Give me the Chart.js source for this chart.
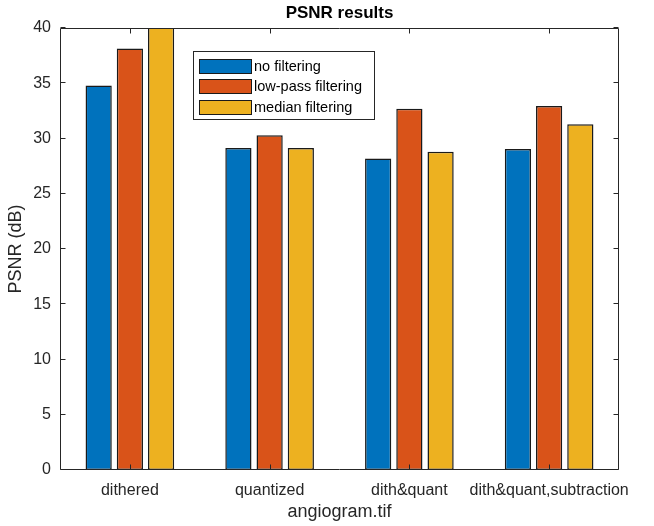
<!DOCTYPE html>
<html><head><meta charset="utf-8">
<script src="https://cdn.jsdelivr.net/npm/chart.js@4/dist/chart.umd.min.js"></script>
<style>html,body{margin:0;padding:0;background:#fff;overflow:hidden}#wrap{width:654px;height:526px}</style>
</head><body><div id="wrap"><canvas id="c" width="654" height="526"></canvas></div>
<script>
const categories = ['dithered', 'quantized', 'dith&quant', 'dith&quant,subtraction'];
const seriesNames = ['no filtering', 'low-pass filtering', 'median filtering'];
const noFiltering = [34.8, 29.15, 28.2, 29.05];
const lowPassFiltering = [38.15, 30.3, 32.7, 32.95];
const medianFiltering = [40.3, 29.15, 28.8, 31.3];
const yTickValues = [0, 5, 10, 15, 20, 25, 30, 35, 40];
const colors = ['#0072BD', '#D95319', '#EDB120'];
const axisColor = '#262626';

const FONT = '"Liberation Sans", Arial, sans-serif';

const boxPlugin = {
  id: 'matlabBox',
  afterDraw(chart) {
    const ctx = chart.ctx;
    const a = chart.chartArea;
    const xs = chart.scales.x, ys = chart.scales.y;
    ctx.save();
    ctx.strokeStyle = axisColor;
    ctx.lineWidth = 1;
    const L = Math.round(a.left) + 0.5, R = Math.round(a.right) - 0.5;
    const T = Math.round(a.top) + 0.5, B = Math.round(a.bottom) - 0.5;
    ctx.beginPath();
    ctx.rect(L, T, R - L, B - T);
    yTickValues.forEach(v => {
      const y = Math.round(ys.getPixelForValue(v)) - 0.5;
      ctx.moveTo(L, y); ctx.lineTo(L + 5, y);
      ctx.moveTo(R, y); ctx.lineTo(R - 5, y);
    });
    categories.forEach((c, i) => {
      const x = Math.round(xs.getPixelForValue(i)) + 0.5;
      ctx.moveTo(x, B); ctx.lineTo(x, B - 5);
      ctx.moveTo(x, T); ctx.lineTo(x, T + 5);
    });
    ctx.stroke();

    ctx.fillStyle = '#000';
    ctx.font = 'bold 17px ' + FONT;
    ctx.textAlign = 'center';
    ctx.textBaseline = 'middle';
    ctx.fillText('PSNR results', (a.left + a.right) / 2, 13);

    const lx = 193.5, ly = 51.5, lw = 181, lh = 68;
    ctx.fillStyle = '#fff';
    ctx.fillRect(lx, ly, lw, lh);
    ctx.strokeStyle = axisColor;
    ctx.strokeRect(lx, ly, lw, lh);
    ctx.font = '14.5px ' + FONT;
    ctx.textAlign = 'left';
    chart.data.datasets.forEach((ds, i) => {
      const ry = 59 + i * 20.3;
      ctx.fillStyle = ds.backgroundColor;
      ctx.fillRect(199.5, Math.round(ry) + 0.5, 52, 14);
      ctx.strokeStyle = '#1a1a1a';
      ctx.strokeRect(199.5, Math.round(ry) + 0.5, 52, 14);
      ctx.fillStyle = '#000';
      ctx.fillText(ds.label, 254, Math.round(ry) + 8);
    });
    ctx.restore();
  }
};

new Chart(document.getElementById('c'), {
  type: 'bar',
  data: {
    labels: categories,
    datasets: [noFiltering, lowPassFiltering, medianFiltering].map((d, i) => ({
      label: seriesNames[i],
      data: d,
      backgroundColor: colors[i],
      borderColor: '#1a1a1a',
      borderWidth: 1.5,
      borderSkipped: false,
      categoryPercentage: 0.67,
      barPercentage: 0.84
    }))
  },
  options: {
    responsive: false,
    animation: false,
    devicePixelRatio: 1,
    layout: { padding: { top: 28, right: 35, left: 0, bottom: 0 } },
    plugins: { legend: { display: false }, title: { display: false }, tooltip: { enabled: false } },
    scales: {
      x: {
        grid: { display: false, drawTicks: false },
        border: { display: false },
        ticks: { color: axisColor, font: { family: FONT, size: 16 }, padding: 11, maxRotation: 0, autoSkip: false },
        title: { display: true, text: 'angiogram.tif', color: axisColor, font: { family: FONT, size: 18 }, padding: { top: 3, bottom: 3 } },
        afterFit(s) { s.height = 56; }
      },
      y: {
        min: 0, max: 40,
        grid: { display: false, drawTicks: false },
        border: { display: false },
        afterBuildTicks(s) { s.ticks = yTickValues.map(v => ({ value: v })); },
        ticks: { color: axisColor, font: { family: FONT, size: 16 }, padding: 9 },
        title: { display: true, text: 'PSNR (dB)', color: axisColor, font: { family: FONT, size: 18 }, padding: { top: 5, bottom: 5 } },
        afterFit(s) { s.width = 60; }
      }
    }
  },
  plugins: [boxPlugin]
});
</script>
</body></html>
